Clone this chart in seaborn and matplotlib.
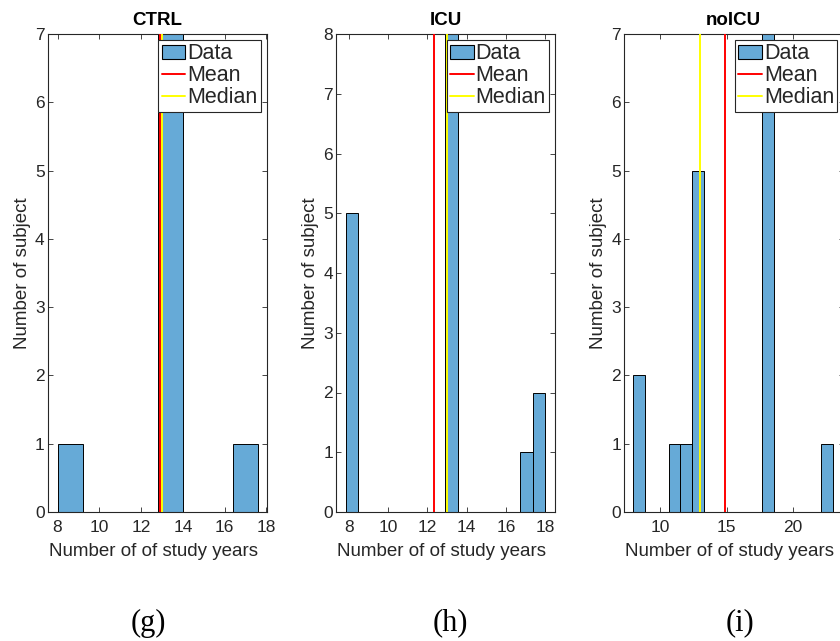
import numpy as np
import matplotlib
matplotlib.use("Agg")
import matplotlib.pyplot as plt
from matplotlib.patches import Patch
from matplotlib.lines import Line2D
import seaborn as sns

# Years of study per subject, by group
groups = ["CTRL", "ICU", "noICU"]
panel_tags = ["(g)", "(h)", "(i)"]

ctrl_years = [8, 13, 13, 13, 13, 13, 13, 13, 17]
icu_years = [8, 8, 8, 8, 8, 13, 13, 13, 13, 13, 13, 13, 13, 17, 18, 18]
noicu_years = [8, 8, 11, 12, 13, 13, 13, 13, 13, 18, 18, 18, 18, 18, 18, 18, 23]
group_years = [ctrl_years, icu_years, noicu_years]

# Histogram binning and axis ranges per group
bin_ranges = [(8.0, 17.6), (7.84, 18.0), (8.0, 23.0)]
bin_counts = [8, 16, 17]
x_limits = [(7.52, 18.03), (7.32, 18.52), (7.29, 23.8)]
x_ticks = [[8, 10, 12, 14, 16, 18], [8, 10, 12, 14, 16, 18], [10, 15, 20]]
y_max = [7, 8, 7]

BAR_COLOR = (0.4, 0.668, 0.845)
AX_COLOR = "#262626"

sns.set_style("ticks")
plt.rcParams["font.family"] = ["Liberation Sans", "DejaVu Sans"]
plt.rcParams["xtick.direction"] = "in"
plt.rcParams["ytick.direction"] = "in"

W, H = 840, 641
fig = plt.figure(figsize=(W / 100, H / 100), dpi=100)

lefts_px = [47.5, 335.7, 624.0]
ax_w_px, ax_bottom_px, ax_h_px = 219.5, 129.0, 478.0
tag_x_px = [148, 450, 740]

for i, (name, years) in enumerate(zip(groups, group_years)):
    ax = fig.add_axes([lefts_px[i] / W, ax_bottom_px / H, ax_w_px / W, ax_h_px / H])
    sns.histplot(x=years, binrange=bin_ranges[i], bins=bin_counts[i], ax=ax,
                 color=BAR_COLOR, alpha=1, edgecolor="black", linewidth=0.7,
                 zorder=2)
    mean_v = float(np.mean(years))
    med_v = float(np.median(years))
    ax.axvline(mean_v, color="red", lw=1.4, zorder=3)
    ax.axvline(med_v, color="yellow", lw=1.4, zorder=3)

    ax.set_xlim(*x_limits[i])
    ax.set_ylim(0, y_max[i])
    ax.set_xticks(x_ticks[i])
    ax.set_yticks(range(0, y_max[i] + 1))

    for sp in ax.spines.values():
        sp.set_visible(True)
        sp.set_color(AX_COLOR)
        sp.set_linewidth(0.8)
    ax.tick_params(axis="both", which="major", direction="in", length=3.6,
                   width=0.6, color=AX_COLOR, labelcolor=AX_COLOR,
                   labelsize=12.5, top=True, right=True)
    ax.tick_params(axis="x", pad=5.5)
    ax.tick_params(axis="y", pad=2)

    ax.set_title(name, fontsize=13.5, fontweight="bold", pad=6.5, color="black")
    ax.set_xlabel("Number of of study years", fontsize=13.5, color=AX_COLOR)
    ax.set_ylabel("Number of subject", fontsize=13.5, color=AX_COLOR)
    ax.xaxis.set_label_coords(0.482, -0.064)
    ax.yaxis.set_label_coords(-0.077, 0.5)

    handles = [
        Patch(facecolor=BAR_COLOR, edgecolor="black", linewidth=0.8, label="Data"),
        Line2D([], [], color="red", lw=1.4, label="Mean"),
        Line2D([], [], color="yellow", lw=1.4, label="Median"),
    ]
    leg = ax.legend(handles=handles, loc="upper right", fontsize=15.5,
                    frameon=True, fancybox=False, framealpha=1,
                    edgecolor=AX_COLOR, borderpad=0.15, labelspacing=0.05,
                    handlelength=1.1, handleheight=0.65, handletextpad=0.1,
                    borderaxespad=0.28)
    leg.get_frame().set_linewidth(0.8)
    leg.set_zorder(5)

    fig.text(tag_x_px[i] / W, (H - 623) / H, panel_tags[i], ha="center",
             va="center", fontsize=22, family="Liberation Serif", color="black")

fig.savefig("out.png", dpi=100)
